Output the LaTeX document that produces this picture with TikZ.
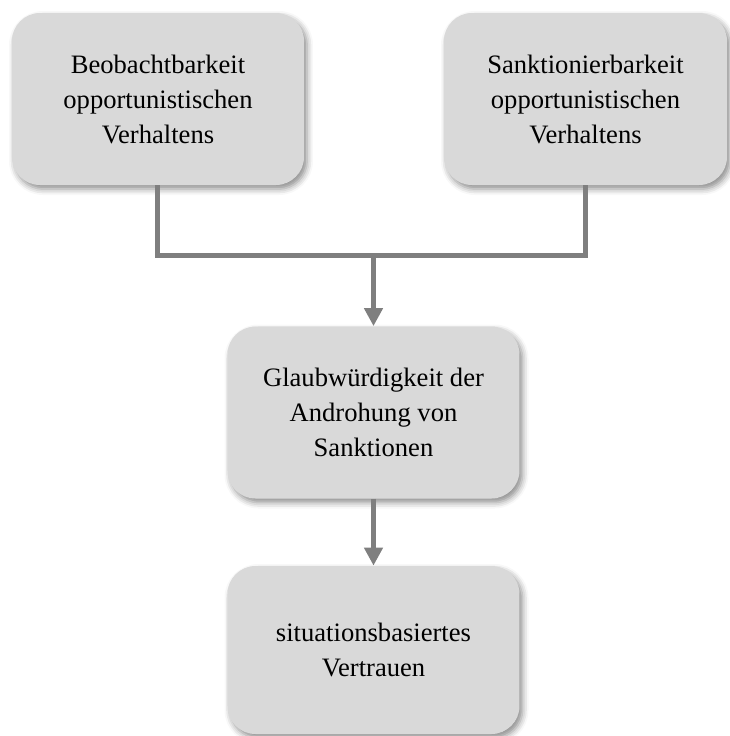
\documentclass[tikz,border=0pt]{standalone}
\usepackage{fontspec}
\setmainfont{Liberation Serif}
\usetikzlibrary{arrows.meta,positioning,shadows.blur}
\definecolor{boxc}{HTML}{D9D9D9}
\definecolor{linec}{HTML}{7F7F7F}
\tikzset{
  box/.style={rectangle, rounded corners=14pt, fill=boxc, align=center,
    minimum width=146pt, minimum height=86pt, inner sep=0pt,
    font=\fontsize{13.3}{17.5}\selectfont,
    blur shadow={shadow xshift=1.5pt, shadow yshift=-2pt, shadow blur radius=3pt, shadow opacity=45}},
  bar/.style={draw=linec, line width=2.5pt},
  link/.style={bar, -{Triangle[length=9pt, width=9pt]}},
}
\begin{document}
\begin{tikzpicture}[x=0.5pt, y=-0.5pt]
  \useasboundingbox (0,0) rectangle (730,736);
  \node[box] (beob) at (158,99) {Beobachtbarkeit\\ opportunistischen\\ Verhaltens};
  \node[box, minimum width=141.5pt] (sankt) at (585.5,99) {Sanktionierbarkeit\\ opportunistischen\\ Verhaltens};
  \node[box] (glaub) at (373.5,412.5) {Glaubwürdigkeit der\\ Androhung von\\ Sanktionen};
  \node[box, minimum height=84pt] (vertr) at (373.5,650) {situationsbasiertes\\ Vertrauen};
  \coordinate (join) at (373.5,255.5);
  \draw[bar] (beob.south) |- (join) -| (sankt.south);
  \draw[link] (join) -- (glaub.north);
  \draw[link] (glaub.south) -- (vertr.north);
\end{tikzpicture}
\end{document}
